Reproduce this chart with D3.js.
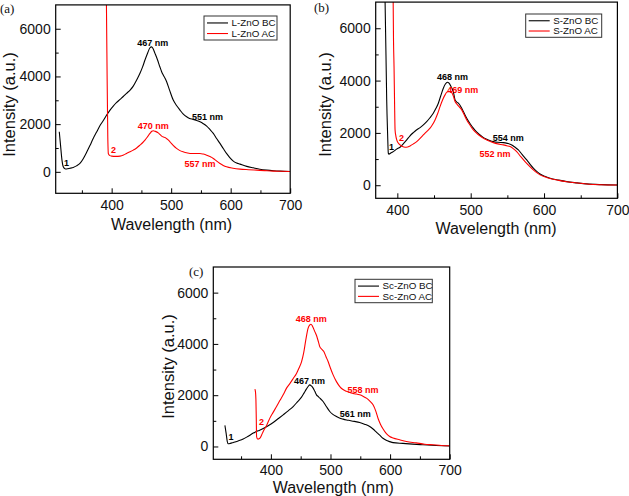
<!DOCTYPE html>
<html><head><meta charset="utf-8">
<script src="https://cdn.jsdelivr.net/npm/d3@7"></script>
<style>body{margin:0;background:#fff} svg{display:block}</style>
</head><body>
<svg id="chart" width="629" height="496"></svg>
<script>
// ---------- data ----------
const xTicks = [400, 500, 600, 700];
const xMinor = [350, 450, 550, 650];
const yTicks = [0, 2000, 4000, 6000];
const yMinor = [1000, 3000, 5000];

// panel (a) L-ZnO  [wavelength nm, intensity a.u.]
const aBC = [[312,1680],[314,1150],[316.5,500],[318.7,210],[321.5,130],[324,120],[330,150],[335.5,185],[341,250],[346.7,352],[352,540],[358,820],[363.5,1100],[369,1400],[374.5,1660],[380,1920],[386,2150],[391.6,2380],[397,2580],[402.7,2757],[408,2900],[414,3036],[419.5,3160],[425,3290],[431,3430],[436.3,3596],[442,3850],[447.6,4130],[452,4400],[456,4687],[460,4950],[464.4,5203],[467,5240],[469.5,5170],[472.8,4968],[477,4700],[481,4406],[484,4200],[486.7,4058],[489.5,3930],[492.4,3776],[497,3450],[503.5,3009],[509,2780],[514.8,2589],[520,2430],[526,2308],[531,2240],[537,2199],[543,2150],[548.4,2098],[554,2020],[559.7,1918],[565,1780],[570.8,1611],[576,1410],[582,1192],[587.5,980],[593,772],[598.5,600],[604.4,449],[610,370],[615.6,323],[627,230],[638,168],[649,110],[660.5,71],[672,45],[683,29],[700,17]];
const aAC = [[390.5,9000],[392,5000],[393.5,1500],[394.5,760],[397,680],[400,660],[407,650],[414,660],[420,705],[425,772],[431,840],[436.3,910],[442,1000],[447.6,1120],[452,1220],[456,1330],[460,1460],[464.4,1611],[467.5,1700],[470,1720],[473,1700],[478.3,1636],[481,1570],[484,1498],[487,1460],[489.6,1443],[494,1360],[498,1259],[503,1120],[509,982],[514,900],[520,839],[526,800],[531.6,772],[540,770],[548.4,772],[554,745],[559.7,700],[565,640],[570.8,562],[576,460],[582,352],[587.5,270],[593,210],[604,150],[615.6,113],[630,90],[643.7,71],[657,50],[671.6,29],[685,22],[700,17]];
const aNames = ["L-ZnO BC", "L-ZnO AC"];
const aNotes = [["467 nm",469,5280,"bc"],["551 nm",561,2174,"bc"],["470 nm",470,1796,"ac"],["557 nm",548.4,182,"ac"],["1",324,245,"bc"],["2",403,769,"ac"]];

// panel (b) S-ZnO
const bBC = [[383,7500],[384.5,5000],[385.5,3258],[386.7,2000],[387.7,1224],[388.6,1190],[391,1230],[394.5,1285],[399,1380],[403.7,1453],[408,1580],[412.8,1732],[417,1880],[421.8,2011],[426,2110],[431,2204],[435.5,2310],[440,2432],[444.5,2580],[449,2753],[452.5,2930],[455.9,3136],[459,3400],[462.7,3709],[465.5,3870],[468.2,3939],[470.5,3900],[472.8,3797],[474.5,3700],[476.3,3579],[478.7,3262],[481,3180],[483.2,3136],[487.8,2944],[491,2760],[494.6,2562],[499,2360],[503.6,2180],[508,2040],[512.7,1923],[517,1830],[521.9,1759],[526,1710],[530.9,1667],[537,1640],[544.5,1629],[550,1600],[556,1541],[560,1460],[565,1350],[570,1180],[576.4,967],[581,800],[585.4,650],[590,530],[594.5,432],[601,340],[608.2,268],[620,195],[631,138],[645,90],[658.2,50],[678,22],[700,8]];
const bAC = [[394,8000],[394.8,5500],[395.5,4535],[396.2,3200],[396.9,2115],[398,1880],[399.2,1732],[401,1620],[403.7,1541],[407,1480],[410.5,1453],[414,1460],[417.3,1503],[422,1580],[426.4,1667],[431,1790],[435.4,1923],[440,2050],[444.6,2180],[448,2320],[451.4,2497],[455,2740],[458.2,3006],[461.5,3250],[465,3453],[467.5,3560],[469.5,3579],[472,3570],[474.2,3541],[476.5,3400],[478.7,3197],[481,3110],[483.2,3032],[487.8,2880],[491,2700],[494.6,2497],[499,2300],[503.6,2115],[508,1990],[512.7,1885],[517,1800],[521.9,1732],[526,1680],[530.9,1629],[537,1580],[544.5,1541],[549,1510],[553.6,1476],[558,1400],[562.7,1285],[568,1100],[574.1,903],[580,730],[585.4,585],[590,480],[594.5,395],[601,320],[608.2,255],[620,185],[631,132],[645,85],[658.2,48],[678,20],[700,8]];
const bNames = ["S-ZnO BC", "S-ZnO AC"];
const bNotes = [["468 nm",475.2,4041,"bc"],["469 nm",489.2,3525,"ac"],["554 nm",551.3,1690,"bc"],["552 nm",533.1,1079,"ac"],["1",392,1346,"bc"],["2",405.7,1690,"ac"]];

// panel (c) Sc-ZnO
const cBC = [[322.9,820],[325,500],[326.8,200],[328.5,105],[332,120],[336.9,156],[345,215],[353.6,288],[362,400],[370.4,522],[378.7,610],[387.1,701],[395.5,810],[403.9,935],[412,1080],[420.6,1235],[429,1390],[437.4,1558],[444.5,1740],[451.4,1925],[455.5,2080],[459.8,2248],[462.5,2340],[465.3,2404],[468,2360],[470.9,2275],[473.7,2150],[476.5,2014],[479.3,1950],[482.1,1886],[487.6,1753],[493,1560],[498.8,1364],[504,1250],[510,1169],[515,1110],[521.1,1067],[527,1035],[532.3,1013],[540,980],[549,935],[557,870],[565.8,779],[571.4,680],[577,560],[582.6,440],[588,320],[593.5,240],[599.3,190],[605,150],[621.6,120],[638,90],[655,66],[677,40],[700,16]];
const cAC = [[373.2,2236],[374.2,2120],[374.9,1820],[375.5,1100],[376,390],[377.3,300],[378.7,288],[380,300],[381.6,327],[384.5,450],[387.1,584],[392.8,820],[398.3,1106],[404,1340],[409.5,1558],[415,1790],[420.6,2014],[426.3,2275],[431.8,2450],[437.5,2650],[443,2850],[447,3050],[451.4,3300],[455,3650],[458.6,4157],[462.5,4613],[465.3,4740],[467.3,4769],[470,4680],[473.7,4480],[477,4300],[480,4060],[482,3896],[485.5,3790],[488.8,3701],[492.5,3500],[496,3312],[500,3050],[504.4,2793],[510,2530],[515.6,2338],[521,2220],[526.7,2150],[532.3,2104],[540,2060],[549,2014],[554.5,1960],[560.3,1886],[566,1770],[571.4,1625],[576,1380],[580,1080],[584,860],[588,690],[593.8,500],[599.3,390],[605,330],[616,261],[627.4,195],[644,140],[658,90],[672,66],[686,40],[700,27]];
const cNames = ["Sc-ZnO BC", "Sc-ZnO AC"];
const cNotes = [["468 nm",467.7,4855,"ac"],["467 nm",464.8,2456,"bc"],["558 nm",554.6,2105,"ac"],["561 nm",541.7,1150,"bc"],["2",384.3,857,"ac"],["1",333,253,"bc"]];

// ---------- layout ----------
const SANS = "'Liberation Sans', Arial, sans-serif";
const SERIF = "'Liberation Serif', 'Times New Roman', serif";
const COL = {bc: "#000000", ac: "#ff0000"};
const TICK_FS = 14;
const TITLE_FS = 16;

const panels = [
  {id:"a", label:"(a)", labelPos:[0,13], bc:aBC, ac:aAC, names:aNames, notes:aNotes,
   xDom:[306,700], yDom:[-900,7000], box:{l:55.7, r:290.2, t:4.9, b:193.3},
   xLabBase:17, yTitle:[15,104.5], xTitle:[171.5,229.5],
   legend:{x:204, y:16, w:73, h:24}},
  {id:"b", label:"(b)", labelPos:[314,12], bc:bBC, ac:bAC, names:bNames, notes:bNotes,
   xDom:[370.5,700], yDom:[-500,7000], box:{l:375.7, r:617.4, t:2.1, b:198.3},
   xLabBase:17, yTitle:[330.7,104.5], xTitle:[496,233.5],
   legend:{x:525.7, y:14, w:76, h:23.3}},
  {id:"c", label:"(c)", labelPos:[189,276], bc:cBC, ac:cAC, names:cNames, notes:cNotes,
   xDom:[303.4,700], yDom:[-500,7000], box:{l:213.3, r:449.7, t:267, b:459.3},
   xLabBase:15.5, yTitle:[174,366.5], xTitle:[333.3,492.5],
   legend:{x:355, y:279.3, w:77.3, h:23.4}}
];

const svg = d3.select("#chart");
const defs = svg.append("defs");
const fmt = d3.format("d");

panels.forEach(p => {
  const x = d3.scaleLinear().domain(p.xDom).range([p.box.l, p.box.r]);
  const y = d3.scaleLinear().domain(p.yDom).range([p.box.b, p.box.t]);
  const g = svg.append("g").attr("class", "panel-" + p.id);

  defs.append("clipPath").attr("id", "clip-" + p.id)
    .append("rect").attr("x", p.box.l).attr("y", p.box.t)
    .attr("width", p.box.r - p.box.l).attr("height", p.box.b - p.box.t);

  const line = d3.line().x(d => x(d[0])).y(d => y(d[1])).curve(d3.curveMonotoneX);
  const curves = g.append("g").attr("clip-path", `url(#clip-${p.id})`);
  curves.append("path").datum(p.bc).attr("d", line)
    .attr("fill", "none").attr("stroke", COL.bc).attr("stroke-width", 1.1);
  curves.append("path").datum(p.ac).attr("d", line)
    .attr("fill", "none").attr("stroke", COL.ac).attr("stroke-width", 1.1);

  const inX = v => v >= p.xDom[0] && v <= p.xDom[1];
  const inY = v => v >= p.yDom[0] && v <= p.yDom[1];

  // bottom axis (ticks inward)
  const padX = p.xLabBase - 0.71 * TICK_FS;
  g.append("g").attr("transform", `translate(0,${p.box.b})`)
    .call(d3.axisBottom(x).tickValues(xTicks.filter(inX)).tickFormat(fmt).tickSize(-5).tickPadding(padX))
    .call(s => s.select(".domain").remove())
    .call(s => s.selectAll("text").attr("font-family", SANS).attr("font-size", TICK_FS).attr("fill", "#111"));
  g.append("g").attr("transform", `translate(0,${p.box.b})`)
    .call(d3.axisBottom(x).tickValues(xMinor.filter(inX)).tickSize(-3).tickFormat(""))
    .call(s => s.select(".domain").remove());

  // left axis (ticks inward)
  g.append("g").attr("transform", `translate(${p.box.l},0)`)
    .call(d3.axisLeft(y).tickValues(yTicks.filter(inY)).tickFormat(fmt).tickSize(-5).tickPadding(5))
    .call(s => s.select(".domain").remove())
    .call(s => s.selectAll("text").attr("font-family", SANS).attr("font-size", TICK_FS).attr("fill", "#111"));
  g.append("g").attr("transform", `translate(${p.box.l},0)`)
    .call(d3.axisLeft(y).tickValues(yMinor.filter(inY)).tickSize(-3).tickFormat(""))
    .call(s => s.select(".domain").remove());

  g.selectAll(".tick line").attr("stroke", "#000").attr("stroke-width", 1);

  // frame
  g.append("rect").attr("x", p.box.l).attr("y", p.box.t)
    .attr("width", p.box.r - p.box.l).attr("height", p.box.b - p.box.t)
    .attr("fill", "none").attr("stroke", "#000").attr("stroke-width", 1.2);

  // axis titles
  g.append("text").attr("transform", `translate(${p.yTitle[0]},${p.yTitle[1]}) rotate(-90)`)
    .attr("text-anchor", "middle").attr("font-family", SANS).attr("font-size", 16.5)
    .attr("fill", "#111").text("Intensity (a.u.)");
  g.append("text").attr("x", p.xTitle[0]).attr("y", p.xTitle[1])
    .attr("text-anchor", "middle").attr("font-family", SANS).attr("font-size", TITLE_FS)
    .attr("fill", "#111").text("Wavelength (nm)");

  // panel label
  g.append("text").attr("x", p.labelPos[0]).attr("y", p.labelPos[1])
    .attr("font-family", SERIF).attr("font-size", 13).attr("fill", "#111").text(p.label);

  // annotations
  g.selectAll("text.note").data(p.notes).join("text").attr("class", "note")
    .attr("x", d => x(d[1])).attr("y", d => y(d[2]))
    .attr("text-anchor", "middle").attr("font-family", SANS).attr("font-weight", "bold")
    .attr("font-size", 9).attr("fill", d => COL[d[3]]).text(d => d[0]);

  // legend
  const L = p.legend;
  const lg = g.append("g").attr("transform", `translate(${L.x},${L.y})`);
  lg.append("rect").attr("width", L.w).attr("height", L.h)
    .attr("fill", "#fff").attr("stroke", "#333").attr("stroke-width", 1);
  ["bc", "ac"].forEach((k, i) => {
    const yy = L.h * (0.29 + 0.44 * i);
    lg.append("line").attr("x1", 3).attr("x2", 24).attr("y1", yy).attr("y2", yy)
      .attr("stroke", COL[k]).attr("stroke-width", 1.1);
    lg.append("text").attr("x", 27.5).attr("y", yy + 3.4)
      .attr("font-family", SANS).attr("font-size", 9.8).attr("fill", "#111").text(p.names[i]);
  });
});
</script>
</body></html>
